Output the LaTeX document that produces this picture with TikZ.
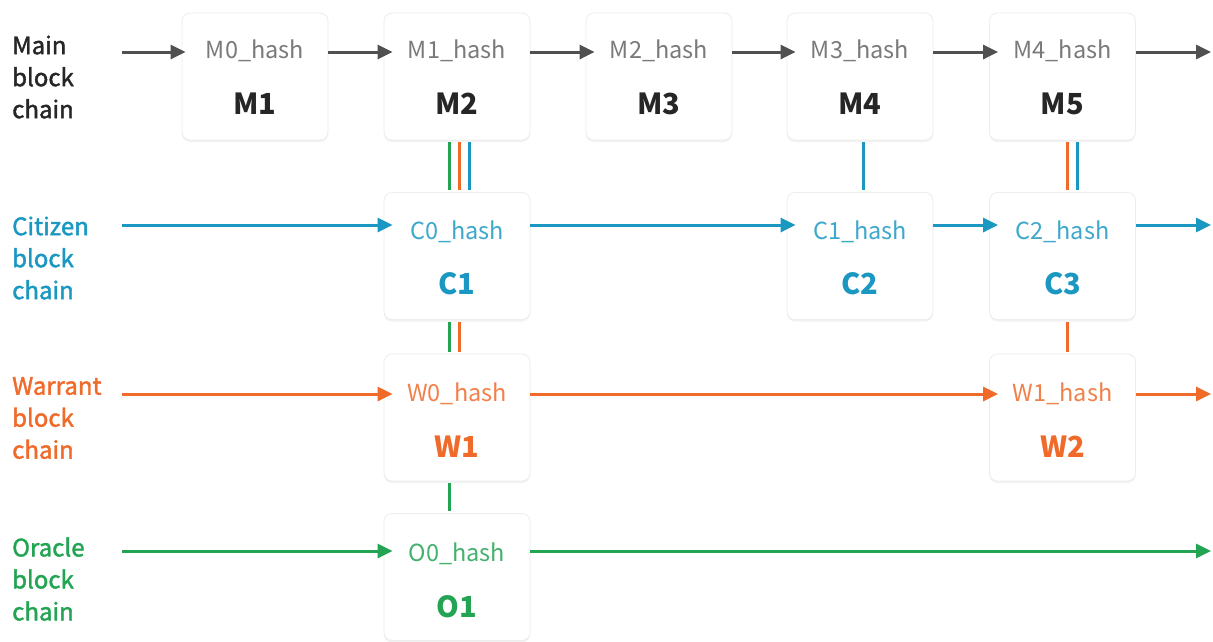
\documentclass[tikz,border=0pt]{standalone}
\usepackage{fontspec}
\setmainfont{Noto Sans CJK SC}
\newfontfamily\medfont[FakeBold=1.6]{Noto Sans CJK SC}
\usetikzlibrary{arrows.meta,calc,shadows}
\definecolor{cgray}{HTML}{505050}
\definecolor{hgray}{HTML}{7A7A7A}
\definecolor{cblue}{HTML}{1B98C2}
\definecolor{corange}{HTML}{F06A2A}
\definecolor{cgreen}{HTML}{22A453}
\begin{document}
\begin{tikzpicture}[x=1pt,y=-1pt,
  blk/.style={draw=black!7, line width=0.8pt, fill=white, rounded corners=8pt,
    minimum width=146pt, minimum height=127pt, inner sep=0pt,
    drop shadow={shadow xshift=0pt, shadow yshift=-2pt, fill=black!5, opacity=1}},
  hashtxt/.style={font=\fontsize{23.5}{26}\selectfont, inner sep=0pt},
  lbltxt/.style={font=\fontsize{29}{32}\selectfont\bfseries, inner sep=0pt},
  side/.style={font=\fontsize{24}{32}\medfont, align=left, anchor=west, inner sep=0pt},
  arr/.style={line width=3pt, -{Triangle[length=15pt,width=14pt]}},
  vl/.style={line width=3pt}]
\useasboundingbox[fill=white] (0,0) rectangle (1213,641);

% ---------- boxes ----------
\foreach \n/\x in {M1/255,M2/457,M3/659,M4/860,M5/1062.5}
  \node[blk] (\n) at (\x,76.5) {};
\foreach \n/\x in {C1/457,C2/860,C3/1062.5}
  \node[blk] (\n) at (\x,256) {};
\foreach \n/\x in {W1/457,W2/1062.5}
  \node[blk] (\n) at (\x,417.5) {};
\node[blk] (O1) at (457,577) {};

% ---------- texts in boxes ----------
\foreach \n/\h/\l in {M1/M0/M1,M2/M1/M2,M3/M2/M3,M4/M3/M4,M5/M4/M5}{
  \node[hashtxt,text=hgray] (\n h) at ($(\n.north)+(0,38)$) {\h\_hash};
  \node[lbltxt,text=black!85] (\n l) at ($(\n.north)+(0,91)$) {\l};
}
\foreach \n/\h/\l in {C1/C0/C1,C2/C1/C2,C3/C2/C3}{
  \node[hashtxt,text=cblue!85] (\n h) at ($(\n.north)+(0,40)$) {\h\_hash};
  \node[lbltxt,text=cblue] (\n l) at ($(\n.north)+(0,92)$) {\l};
}
\foreach \n/\h/\l in {W1/W0/W1,W2/W1/W2}{
  \node[hashtxt,text=corange!85] (\n h) at ($(\n.north)+(0,40)$) {\h\_hash};
  \node[lbltxt,text=corange] (\n l) at ($(\n.north)+(0,93)$) {\l};
}
\node[hashtxt,text=cgreen!85] (O1h) at ($(O1.north)+(0,41)$) {O0\_hash};
\node[lbltxt,text=cgreen] (O1l) at ($(O1.north)+(0,94)$) {O1};

% ---------- side labels ----------
\node[side,text=black!85] (lm) at (12,77) {Main\\block\\chain};
\node[side,text=cblue] (lc) at (12,258) {Citizen\\block\\chain};
\node[side,text=corange] (lw) at (12,418) {Warrant\\block\\chain};
\node[side,text=cgreen] (lo) at (12,579) {Oracle\\block\\chain};

% ---------- chain start / end points ----------
\coordinate (ms) at (122,52);
\coordinate (me) at (1211,52);
\coordinate (cs) at (122,225);
\coordinate (ce) at (1211,225);
\coordinate (ws) at (122,394);
\coordinate (we) at (1211,394);
\coordinate (os) at (122,551);
\coordinate (oe) at (1211,551);

% ---------- horizontal arrows ----------
\draw[arr,cgray] (ms) -- ($(M1.west |- ms)+(4,0)$);
\draw[arr,cgray] (M1.east |- ms) -- ($(M2.west |- ms)+(9,0)$);
\draw[arr,cgray] (M2.east |- ms) -- ($(M3.west |- ms)+(9,0)$);
\draw[arr,cgray] (M3.east |- ms) -- ($(M4.west |- ms)+(9,0)$);
\draw[arr,cgray] (M4.east |- ms) -- ($(M5.west |- ms)+(9,0)$);
\draw[arr,cgray] (M5.east |- ms) -- (me);

\draw[arr,cblue] (cs) -- ($(C1.west |- cs)+(9,0)$);
\draw[arr,cblue] (C1.east |- cs) -- ($(C2.west |- cs)+(9,0)$);
\draw[arr,cblue] (C2.east |- cs) -- ($(C3.west |- cs)+(9,0)$);
\draw[arr,cblue] (C3.east |- cs) -- (ce);

\draw[arr,corange] (ws) -- ($(W1.west |- ws)+(9,0)$);
\draw[arr,corange] (W1.east |- ws) -- ($(W2.west |- ws)+(9,0)$);
\draw[arr,corange] (W2.east |- ws) -- (we);

\draw[arr,cgreen] (os) -- ($(O1.west |- os)+(9,0)$);
\draw[arr,cgreen] (O1.east |- os) -- (oe);

% ---------- vertical links ----------
\draw[vl,cgreen]  ([xshift=-8pt,yshift=-2pt]M2.south) -- ([xshift=-8pt,yshift=2pt]C1.north);
\draw[vl,corange] ([xshift=2pt,yshift=-2pt]M2.south) -- ([xshift=2pt,yshift=2pt]C1.north);
\draw[vl,cblue]   ([xshift=12pt,yshift=-2pt]M2.south) -- ([xshift=12pt,yshift=2pt]C1.north);
\draw[vl,cblue]   ([xshift=3pt,yshift=-2pt]M4.south) -- ([xshift=3pt,yshift=2pt]C2.north);
\draw[vl,corange] ([xshift=4.5pt,yshift=-2pt]M5.south) -- ([xshift=4.5pt,yshift=2pt]C3.north);
\draw[vl,cblue]   ([xshift=14.5pt,yshift=-2pt]M5.south) -- ([xshift=14.5pt,yshift=2pt]C3.north);
\draw[vl,cgreen]  ([xshift=-8pt,yshift=-2pt]C1.south) -- ([xshift=-8pt,yshift=2pt]W1.north);
\draw[vl,corange] ([xshift=2pt,yshift=-2pt]C1.south) -- ([xshift=2pt,yshift=2pt]W1.north);
\draw[vl,corange] ([xshift=4.5pt,yshift=-2pt]C3.south) -- ([xshift=4.5pt,yshift=2pt]W2.north);
\draw[vl,cgreen]  ([xshift=-8pt,yshift=-2pt]W1.south) -- ([xshift=-8pt,yshift=2pt]O1.north);
\end{tikzpicture}
\end{document}
